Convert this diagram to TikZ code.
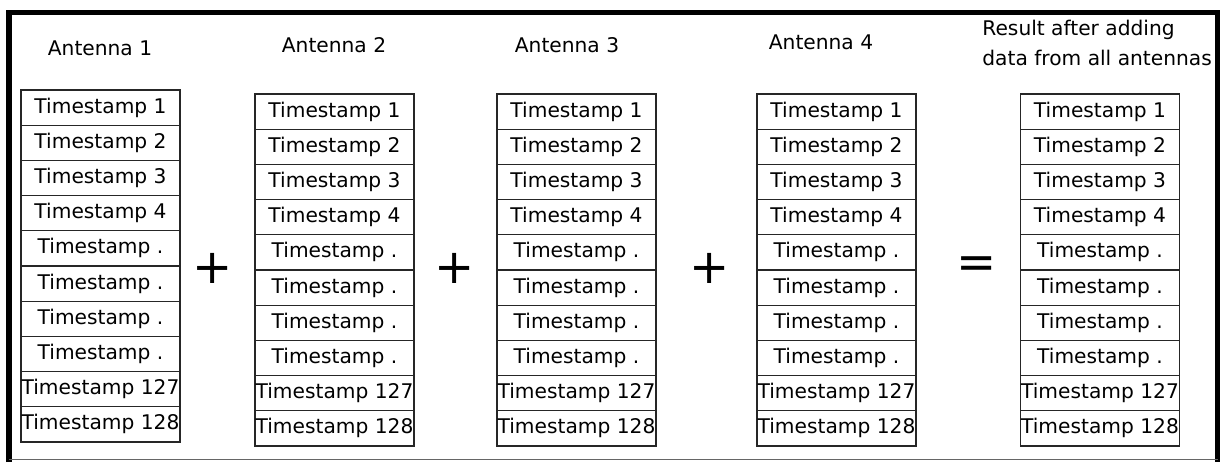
\documentclass[tikz,border=0pt]{standalone}
\usepackage{fontspec}
\setmainfont{DejaVu Sans}

\begin{document}
\begin{tikzpicture}[x=0.5pt,y=-0.5pt]
\tikzstyle{every node}+=[inner sep=0pt, font=\fontsize{10.1}{15}\selectfont]
\tikzstyle{cell}=[draw=black!85, line width=0.6pt, minimum width=79.5pt, minimum height=17.6pt]
\tikzstyle{op}=[font=\fontsize{24}{24}\selectfont]
\useasboundingbox (0,0) rectangle (1222,462);
\fill [white] (0,0) rectangle (1222,462);
\draw [black, line width=2.8pt] (9,462) -- (9,12.5) -- (1217.5,12.5) -- (1217.5,462);
\draw [black!60, line width=0.6pt] (9,459.5) -- (1217.5,459.5);
\draw (100,48) node (ant1) {Antenna 1};
\draw (334,45) node (ant2) {Antenna 2};
\draw (567,45) node (ant3) {Antenna 3};
\draw (821,42) node (ant4) {Antenna 4};
\draw (982,43) node [anchor=west, align=left] (result) {Result after adding\\data from all antennas};
\foreach \c/\x/\y in {1/100.5/90, 2/334.5/94, 3/576.5/94, 4/836.5/94, 5/1100/94}
  \foreach \r/\t in {1/1, 2/2, 3/3, 4/4, 5/., 6/., 7/., 8/., 9/127, 10/128}
    \node [cell] (c\c r\r) at (\x,{\y+35.2*\r-17.6}) {Timestamp \t};
\draw (213,268) node [op] (plus1) {+};
\draw (455,268) node [op] (plus2) {+};
\draw (710,268) node [op] (plus3) {+};
\draw (977,268) node [op] (equals) {=};
\end{tikzpicture}
\end{document}
